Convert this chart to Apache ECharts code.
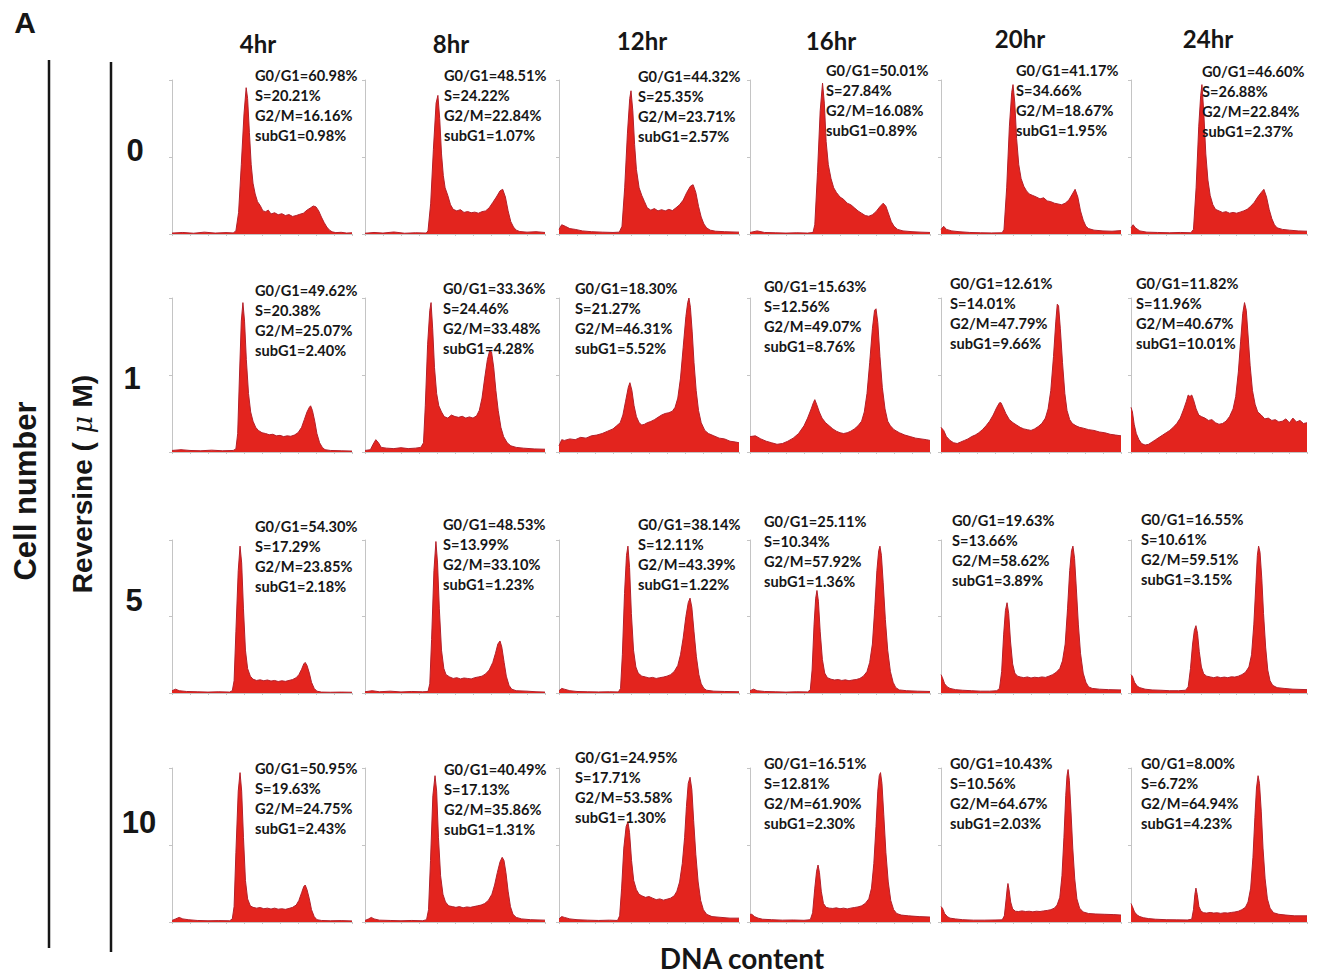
<!DOCTYPE html>
<html>
<head>
<meta charset="utf-8">
<script src="https://cdn.jsdelivr.net/npm/echarts@6/dist/echarts.min.js"></script>
<style>
html, body { margin: 0; padding: 0; background: #ffffff; }
#chart { width: 1317px; height: 977px; }
</style>
</head>
<body>
<div id="chart"></div>
<script>
// ---- Data ---------------------------------------------------------------
const timePoints = ['4hr', '8hr', '12hr', '16hr', '20hr', '24hr'];
const doses = ['0', '1', '5', '10'];

// Cell-cycle phase percentages, one row per Reversine dose, one entry per time point
const g1Pct = [
  [60.98, 48.51, 44.32, 50.01, 41.17, 46.60],
  [49.62, 33.36, 18.30, 15.63, 12.61, 11.82],
  [54.30, 48.53, 38.14, 25.11, 19.63, 16.55],
  [50.95, 40.49, 24.95, 16.51, 10.43, 8.00]
];
const sPct = [
  [20.21, 24.22, 25.35, 27.84, 34.66, 26.88],
  [20.38, 24.46, 21.27, 12.56, 14.01, 11.96],
  [17.29, 13.99, 12.11, 10.34, 13.66, 10.61],
  [19.63, 17.13, 17.71, 12.81, 10.56, 6.72]
];
const g2mPct = [
  [16.16, 22.84, 23.71, 16.08, 18.67, 22.84],
  [25.07, 33.48, 46.31, 49.07, 47.79, 40.67],
  [23.85, 33.10, 43.39, 57.92, 58.62, 59.51],
  [24.75, 35.86, 53.58, 61.90, 64.67, 64.94]
];
const subG1Pct = [
  [0.98, 1.07, 2.57, 0.89, 1.95, 2.37],
  [2.40, 4.28, 5.52, 8.76, 9.66, 10.01],
  [2.18, 1.23, 1.22, 1.36, 3.89, 3.15],
  [2.43, 1.31, 1.30, 2.30, 2.03, 4.23]
];

// DNA-content histograms: [channel (0-100), relative cell count (0-100)]
const histDose0 = [
  [[0,0.6],[6,1.0],[12,0.5],[18,1.2],[24,0.6],[30,0.9],[34,0.7],[35.5,2],[37,14],[38.5,45],[40,78],[41.2,95],[42,88],[43,66],[44,45],[45,33],[46.2,26],[47.5,21],[49,18.5],[50.5,15],[52,14.5],[53.5,15.5],[55,13],[57,13.8],[59,12.5],[61,13.2],[63,12],[65,12.6],[67,11.4],[69,12],[71,12.8],[73,13.5],[75,15.5],[77,17],[78.5,18.2],[80,17.6],[81.5,15],[83,11],[84.5,7.5],[86,4.5],[87.5,2.5],[89,1.4],[91,0.9],[94,1.1],[97,0.6],[100,0.8]],
  [[0,0.5],[5,1],[10,0.6],[16,1.3],[22,0.5],[28,0.8],[34,0.6],[35,2],[36.5,20],[38,55],[39.5,85],[40.5,90],[41.5,75],[42.5,52],[43.5,38],[44.5,30],[46,25],[47.5,19],[49,16],[51,15],[53,15.8],[55,14],[57,14.6],[59,13.8],[61,14.2],[63,13.5],[65,14.5],[67,15],[69,17],[71,20.5],[73,24],[75,28],[76.5,29],[78,24],[79.5,15],[81,8],[82.5,4.5],[84,2.5],[86,1.6],[90,1.2],[95,1.5],[100,1]],
  [[0,3],[1.5,6],[3.5,5],[6,3.5],[9,3],[13,2],[18,1.5],[24,1.2],[30,1],[33.5,1.2],[35,5],[36.5,30],[38,65],[39.3,88],[40,93],[41,80],[42,58],[43,42],[44.5,30],[46,25],[47.5,21],[49,17],[51,15.5],[53,16.5],[55,15],[57,15.8],[59,15],[61,16],[63,15.2],[65,17],[67,19],[69,22],[71,27],[73,31],[74.5,32],[76,27],[77.5,18],[79,11],[80.5,6.5],[82,4],[84,2.5],[87,1.8],[92,1.5],[100,1.2]],
  [[0,1],[4,2],[8,1],[14,0.8],[20,0.6],[26,0.8],[32,0.6],[35,1],[36,6],[37.5,40],[39,80],[40.3,98],[41.3,85],[42.3,60],[43.5,45],[45,36],[46.5,30],[48,27],[50,24],[52,22.5],[54,20],[56,19],[58,17],[60,15],[62,13.5],[64,12],[66,11.5],[68,12.5],[70,14.5],[72,17.5],[74,20],[75.5,18],[77,13],[78.5,8],[80,5],[82,3],[85,2],[90,1.5],[95,1.2],[100,1]],
  [[0,3],[1.5,5],[3,3],[6,2],[10,1.5],[16,1],[22,0.8],[28,0.7],[34,0.8],[35,3],[36.5,30],[38,70],[39.3,92],[40,97],[41,85],[42,62],[43.2,45],[44.5,36],[46,31],[47.5,28],[49,26],[51,25],[53,24],[55,22.8],[57,23.5],[59,21.5],[61,21],[63,20],[65,19.5],[67,19],[69,20],[71,22],[73,26],[74.5,29],[76,24],[77.5,15],[79,9],[80.5,5],[82,3.5],[85,2.5],[90,2],[95,1.8],[100,2.2]],
  [[0,4],[1.2,6],[2.5,4],[5,2],[9,1.2],[15,1],[22,0.8],[28,1],[34,0.8],[35.5,3],[37,30],[38.5,70],[39.6,90],[40.3,97],[41.3,80],[42.5,52],[43.7,35],[45,25],[46.5,19],[48,16],[50,15],[52,14],[54,14.5],[56,13.5],[58,14],[60,13.5],[62,14.2],[64,15],[66,16],[68,18],[70,20.5],[72,24],[74,27],[75.5,29],[77,24],[78.5,16],[80,10],[81.5,6],[83,4],[86,3],[90,2.5],[95,2],[100,1.8]]
];
const histDose1 = [
  [[0,1],[5,1.5],[10,1],[16,0.8],[22,1.2],[28,0.8],[34,1],[35.5,2],[36.5,12],[37.5,50],[38.5,85],[39.4,97],[40.3,85],[41.3,60],[42.5,38],[43.7,26],[45,20],[46.5,16],[48,14],[50,12.5],[52,12],[54,11.2],[56,11.5],[58,10.5],[60,10.8],[62,10],[64,10.5],[66,10.2],[68,11],[70,12.5],[72,16],[73.5,21],[75,26],[76.3,29],[77,30],[78,27],[79.3,20],[80.5,12],[82,6],[83.5,3],[85,1.5],[88,1],[94,0.8],[100,0.6]],
  [[0,1],[3,1.5],[4.5,5],[6,8],[7.5,6],[9,3],[12,2.5],[16,2.2],[20,2.8],[24,2.2],[28,2.5],[31,3],[32.5,6],[33.5,30],[34.8,70],[36,92],[36.7,97],[37.6,80],[38.6,55],[39.8,38],[41,30],[42.5,26],[44,23],[46,22],[48,24],[50,23],[52,22.5],[54,23.2],[56,22],[58,22.8],[60,22],[62,23.5],[63.5,27],[65,35],[66.5,48],[68,60],[69.3,66],[70.3,65],[71.5,55],[72.7,40],[74,27],[75.5,16],[77,10],[79,6],[81,4],[84,3],[88,2.5],[94,2],[100,1.8]],
  [[0,4],[1.5,8],[3,7.5],[6,8.5],[9,8],[12,9.5],[15,9],[18,10.5],[21,11],[24,12],[27,13.5],[30,15],[32,17],[34,19],[35.5,24],[37,33],[38.5,42],[39.4,45],[40.5,40],[41.7,30],[43,23],[44.5,19],[46,17.5],[47.5,18],[49,19],[51,19.8],[53,21],[55,22.5],[57,24],[59,25],[61,25.5],[63,26.5],[64.5,29],[66,35],[67.5,48],[69,68],[70.5,88],[71.5,97],[72.2,100],[73,94],[74,78],[75,58],[76.2,40],[77.5,27],[79,19],[81,14],[83,12],[86,10.5],[89,9],[92,8.5],[95,7],[98,6.5],[100,6]],
  [[0,10],[3,10.5],[6,8.5],[9,7],[12,6],[15,5],[18,5.5],[21,7],[24,9],[27,12],[30,17],[32,22],[34,28],[35.2,32],[36,34],[37,31],[38.5,26],[40,22],[42,19],[44,17],[46,15],[48,13.5],[50,12.5],[52,12],[54,12.5],[56,13.5],[58,15],[60,17],[62,20],[63.5,26],[65,38],[66.5,58],[68,80],[69.2,92],[70,93],[71,84],[72.2,62],[73.5,42],[75,28],[76.5,20],[78,17],[80,14.5],[83,12.5],[86,11],[89,10],[92,9],[95,8.5],[98,8],[100,7.5]],
  [[0,16],[1.5,14],[3,10],[5,7.5],[7,6],[9,5.5],[11,6.5],[13,7.5],[15,8.5],[17,10],[19,11],[21,12.5],[23,14.5],[25,17],[27,20],[29,24],[31,29],[32.5,32],[33.3,32],[34.5,29],[36,25],[38,21],[40,19],[42,17.5],[44,16],[46,15],[48,14.5],[50,14],[52,15],[54,16.5],[56,18.5],[58,22],[59.5,28],[61,40],[62.5,62],[63.8,85],[64.6,96],[65.3,95],[66.3,80],[67.5,58],[68.8,38],[70,27],[71.5,21],[73,18.5],[75,17],[77,16],[79,15.5],[82,14.5],[85,14],[88,13],[91,12.5],[94,11.5],[97,11],[100,10.5]],
  [[0,29],[0.8,26],[1.8,18],[3,12],[4.5,8],[6,5.5],[8,4.5],[10,5],[12,6.5],[14,8],[16,9.5],[18,11],[20,12.5],[22,14],[24,16],[26,18.5],[28,22],[30,28],[31.5,33],[32.5,37],[33.5,36],[34.5,37],[35.5,34],[37,28],[38.5,24],[40,23],[42,22],[44,20.5],[46,21],[48,19],[50,18],[52,18.5],[54,20],[56,23],[58,28],[59.5,36],[61,52],[62.3,72],[63.5,90],[64.5,97],[65.5,92],[66.5,76],[67.7,56],[69,40],[70.5,31],[72,26],[74,24],[76,21.5],[78,22],[80,20.5],[82,21],[84,19.5],[86,20],[88,21.5],[90,19],[92,22],[94,19.5],[96,20.5],[98,18.5],[100,19]]
];
const histDose5 = [
  [[0,1.5],[2,2.5],[4,1.5],[8,1],[14,0.8],[20,0.6],[26,0.8],[32,0.6],[33.5,1.5],[34.5,8],[35.5,40],[36.8,80],[37.8,96],[38.7,85],[39.7,55],[40.8,28],[42,16],[43.5,11],[45,9],[47,8.2],[49,8.6],[51,8],[53,8.5],[55,7.8],[57,8.2],[59,7.5],[61,8],[63,7.6],[65,8.2],[67,8.8],[69,10],[70.5,12],[72,15.5],[73.2,19],[74,20],[75,18],[76.3,13],[77.5,7],[79,3],[80.5,1.2],[83,0.6],[88,0.5],[94,0.6],[100,0.5]],
  [[0,0.8],[4,1.5],[8,0.8],[14,1.2],[20,0.7],[26,1],[32,0.8],[35,1],[36,6],[37,35],[38.3,80],[39.4,99],[40.3,85],[41.3,55],[42.5,28],[43.8,16],[45,12],[47,10.5],[49,9.5],[51,10],[53,9.2],[55,9.8],[57,9.5],[59,9.2],[61,10],[63,10.5],[65,11],[67,12.5],[69,15],[71,20],[72.5,26],[73.8,32],[75,34],[76,30],[77.3,20],[78.5,11],[80,5],[81.5,2.5],[84,1.5],[90,1.2],[95,0.8],[100,0.6]],
  [[0,1.5],[1.5,3],[3,2.5],[6,1.5],[10,1],[16,0.8],[22,0.7],[28,0.8],[33,0.7],[34.2,3],[35.2,25],[36.4,65],[37.5,90],[38.3,96],[39.2,82],[40.2,52],[41.4,28],[42.7,17],[44,13],[46,11],[48,10.5],[50,9.8],[52,10.2],[54,9.5],[56,10],[58,10.4],[60,11],[62,12],[64,14],[66,18],[67.5,25],[69,36],[70.5,50],[71.8,59],[72.8,62],[73.8,56],[75,40],[76.3,24],[77.7,12],[79,6],[80.5,3],[82,1.8],[86,1.2],[92,1],[100,0.8]],
  [[0,1.5],[2,2.5],[4,1.5],[8,1],[14,0.8],[20,0.6],[26,0.8],[32,0.7],[33.5,2],[34.5,15],[35.6,45],[36.5,62],[37.2,67],[38,60],[39,40],[40.2,22],[41.5,13],[43,10],[45,9],[47,8.5],[49,8.8],[51,8.2],[53,8.6],[55,8],[57,8.5],[59,8.8],[61,9.5],[63,11],[65,14],[66.5,20],[68,32],[69.3,55],[70.5,80],[71.5,93],[72.2,96],[73,90],[74,72],[75.2,48],[76.5,28],[78,14],[79.5,7],[81,3.5],[83,2],[87,1.5],[93,1.2],[100,1]],
  [[0,12],[0.8,10],[2,6],[3.5,4],[5,3],[8,2.2],[12,1.8],[17,1.5],[22,1.2],[27,1.2],[31,1.5],[32.5,3],[33.7,14],[34.8,38],[35.8,54],[36.7,59],[37.6,52],[38.6,34],[39.8,19],[41,13],[42.5,11],[44,10.5],[46,10],[48,10.5],[50,9.8],[52,10.3],[54,10],[56,10.5],[58,10.2],[60,11],[62,12],[64,13.5],[66,16],[67.5,21],[69,32],[70.3,55],[71.5,80],[72.5,93],[73.3,96],[74.2,88],[75.2,68],[76.3,45],[77.5,26],[79,13],[80.5,7],[82,4],[84,3],[88,2.5],[93,2.2],[100,2]],
  [[0,12],[0.8,11],[2,7],[3.5,4.5],[5,3.5],[8,2.5],[12,2],[17,1.8],[22,1.5],[27,1.5],[31,1.8],[32.5,4],[33.8,16],[35,32],[36,41],[36.9,44],[37.8,39],[38.8,27],[40,17],[41.3,12.5],[43,11],[45,10.5],[47,10],[49,10.6],[51,10],[53,10.4],[55,10],[57,10.6],[59,10.4],[61,11],[63,12],[65,13.5],[67,17],[68.5,25],[69.8,45],[71,72],[71.8,90],[72.5,96],[73.3,92],[74.3,75],[75.3,52],[76.5,30],[77.7,15],[79,8],[80.5,5],[83,3.5],[87,3],[92,2.5],[100,2.2]]
];
const histDose10 = [
  [[0,1],[2,2],[4,3],[6,2],[9,1.5],[14,1],[20,0.8],[26,0.9],[32,0.8],[33.5,2],[34.5,10],[35.5,45],[36.8,85],[37.8,97],[38.7,85],[39.7,55],[40.8,27],[42,15],[43.5,10.5],[45,9.5],[47,9],[49,9.4],[51,8.6],[53,9],[55,8.4],[57,9],[59,8.3],[61,8.6],[63,8.2],[65,8.8],[67,9.5],[69,11],[70.5,14],[72,19],[73.2,23],[74,24],[75,21],[76.3,15],[77.5,8],[79,3.5],[80.5,1.5],[83,1],[88,0.8],[94,0.9],[100,0.7]],
  [[0,1],[2,2],[3.5,3],[5,2],[8,1.2],[14,1],[20,0.8],[26,1],[32,0.8],[34.2,1.5],[35.3,8],[36.4,40],[37.7,82],[38.9,95],[39.8,85],[40.8,55],[42,30],[43.3,18],[44.7,13],[46.5,10.5],[48.5,10],[50.5,9.5],[52.5,10],[54.5,9.2],[56.5,9.8],[58.5,9.5],[60.5,10],[62.5,10.5],[64.5,11],[66.5,12],[68.5,14],[70.5,18],[72,24],[73.5,32],[75,39],[76.2,42],[77.2,40],[78.3,32],[79.5,20],[80.8,10],[82.2,5],[84,3],[87,2],[92,1.5],[100,1.2]],
  [[0,2],[1.5,3.5],[3,3],[6,2],[10,1.5],[16,1.2],[22,1],[28,1.2],[32.5,1],[33.7,4],[34.8,22],[36,48],[37.3,62],[38.3,65],[39.2,58],[40.3,40],[41.5,27],[43,21],[44.5,18],[46,17],[48,16],[50,16.5],[52,15.5],[54,14.5],[56,15],[58,14.2],[60,14.8],[62,15.5],[64,17],[65.5,20],[67,26],[68.5,38],[69.8,55],[70.8,75],[71.8,90],[72.8,94],[73.8,86],[74.8,66],[76,44],[77.3,26],[78.7,14],[80.2,8],[82,5],[85,3.5],[90,3],[95,2.5],[100,2.5]],
  [[0,5],[1,5],[2.5,3.5],[4.5,2.5],[7,1.8],[12,1.5],[18,1.2],[24,1.3],[30,1.1],[33.5,1.5],[34.8,6],[36,22],[37,33],[37.8,37],[38.6,32],[39.6,20],[40.8,12],[42.3,9.5],[44,9],[46,8.8],[48,9.2],[50,8.6],[52,9],[54,8.5],[56,9],[58,9.4],[60,9.8],[62,10.5],[64,12],[66,15],[67.5,22],[68.8,38],[70,62],[71,85],[71.8,95],[72.5,97],[73.3,90],[74.3,70],[75.5,45],[76.8,26],[78.2,14],[79.8,8],[81.5,5.5],[84,4.5],[88,4],[94,3.5],[100,3.2]],
  [[0,10],[0.8,9],[2,5.5],[3.5,3.5],[5,2.5],[8,2],[12,1.5],[18,1.2],[24,1.2],[30,1.3],[34,1.4],[35.2,4],[36.2,15],[36.8,22],[37.2,25],[37.8,21],[38.7,13],[39.8,8.5],[41.3,7],[43,6.8],[45,7.2],[47,6.8],[49,7],[51,6.6],[53,7],[55,6.8],[57,7.2],[59,7.5],[61,8],[63,9],[64.5,11],[66,16],[67.2,30],[68.3,55],[69.3,82],[70,95],[70.6,99],[71.3,92],[72.2,72],[73.2,48],[74.3,28],[75.5,15],[77,9],[79,6.5],[82,5.5],[86,5.2],[91,5],[96,4.8],[100,4.5]],
  [[0,12],[0.8,10],[2,6.5],[3.5,4.5],[5,3.5],[7,2.8],[10,2.2],[14,1.8],[20,1.5],[26,1.4],[32,1.3],[34.5,1.8],[35.5,8],[36.3,18],[36.9,22],[37.6,18],[38.6,10],[39.8,7],[41.3,6],[43,5.8],[45,6.2],[47,5.8],[49,6],[51,5.6],[53,6],[55,5.8],[57,6.2],[59,6.5],[61,7],[63,8],[65,9.5],[66.5,13],[68,22],[69.3,42],[70.4,68],[71.3,87],[72.2,95],[73,90],[74,72],[75,48],[76.2,28],[77.5,15],[79,9],[81,6],[84,5],[88,4.5],[93,4],[100,4]]
];
const histograms = [histDose0, histDose1, histDose5, histDose10];

// ---- Layout -------------------------------------------------------------
const colLeft = [172, 365, 559, 750, 941, 1131];
const colWidth = [180, 180, 180, 180, 180, 176];
const rowTop = [80, 298, 540, 768];
const rowBase = [234, 452, 693, 922];
// top-left of each phase read-out block (x, centre of first line)
const statAnchor = [
  [[255, 75], [444, 75], [638, 76], [826, 70], [1016, 70], [1202, 71]],
  [[255, 290], [443, 288], [575, 288], [764, 286], [950, 283], [1136, 283]],
  [[255, 526], [443, 524], [638, 524], [764, 521], [952, 520], [1141, 519]],
  [[255, 768], [444, 769], [575, 757], [764, 763], [950, 763], [1141, 763]]
];
const headerPos = [[258, 43], [451, 43], [642, 40], [831, 40], [1020, 38], [1208, 38]];
const dosePos = [[135, 150], [132, 378], [134, 600], [139, 822]];

const FILL = '#e3241e';
const EDGE = '#b3202a';
const AXIS = '#c4c4c4';
const INK = '#161616';
const statFont = 'Lato, "Open Sans", sans-serif';

const grids = [], xAxes = [], yAxes = [], series = [], graphics = [];

for (let r = 0; r < doses.length; r++) {
  for (let c = 0; c < timePoints.length; c++) {
    const idx = grids.length;
    grids.push({
      left: colLeft[c], top: rowTop[r],
      width: colWidth[c], height: rowBase[r] - rowTop[r],
      containLabel: false
    });
    xAxes.push({
      type: 'value', gridIndex: idx, min: 0, max: 100, interval: 10,
      axisLine: { show: true, lineStyle: { color: AXIS, width: 1 } },
      axisTick: { show: true, length: 2, lineStyle: { color: AXIS } },
      axisLabel: { show: false }, splitLine: { show: false }
    });
    yAxes.push({
      type: 'value', gridIndex: idx, min: 0, max: 100, interval: 50,
      axisLine: { show: true, lineStyle: { color: AXIS, width: 1 } },
      axisTick: { show: true, length: 3, lineStyle: { color: AXIS } },
      axisLabel: { show: false }, splitLine: { show: false }
    });
    series.push({
      type: 'line', xAxisIndex: idx, yAxisIndex: idx,
      data: histograms[r][c],
      showSymbol: false, symbol: 'none', smooth: false,
      lineStyle: { color: EDGE, width: 1 },
      areaStyle: { color: FILL, opacity: 1 },
      silent: true, animation: false
    });

    const lines = [
      'G0/G1=' + g1Pct[r][c].toFixed(2) + '%',
      'S=' + sPct[r][c].toFixed(2) + '%',
      'G2/M=' + g2mPct[r][c].toFixed(2) + '%',
      'subG1=' + subG1Pct[r][c].toFixed(2) + '%'
    ];
    const [ax, ay] = statAnchor[r][c];
    lines.forEach((t, i) => {
      graphics.push({
        type: 'text', x: ax, y: ay + i * 20, z: 10,
        style: {
          text: t, fill: INK, fontFamily: statFont, fontWeight: 'bold',
          fontSize: 14.6, textAlign: 'left', textVerticalAlign: 'middle'
        }
      });
    });
  }
}

// column headers (time points)
timePoints.forEach((t, c) => {
  graphics.push({
    type: 'text', x: headerPos[c][0], y: headerPos[c][1],
    style: { text: t, fill: INK, fontFamily: statFont, fontWeight: 'bold',
             fontSize: 24, textAlign: 'center', textVerticalAlign: 'middle' }
  });
});

// dose labels
doses.forEach((d, r) => {
  graphics.push({
    type: 'text', x: dosePos[r][0], y: dosePos[r][1],
    style: { text: d, fill: INK, fontFamily: '"Liberation Sans", Arial, sans-serif',
             fontWeight: 'bold', fontSize: 31, textAlign: 'center', textVerticalAlign: 'middle' }
  });
});

// panel letter
graphics.push({
  type: 'text', x: 25, y: 22,
  style: { text: 'A', fill: INK, fontFamily: '"Liberation Sans", Arial, sans-serif',
           fontWeight: 'bold', fontSize: 30, textAlign: 'center', textVerticalAlign: 'middle' }
});

// axis titles
graphics.push({
  type: 'text', x: 25, y: 491, rotation: Math.PI / 2,
  style: { text: 'Cell number', fill: INK, fontFamily: '"Liberation Sans", Arial, sans-serif',
           fontWeight: 'bold', fontSize: 31, textAlign: 'center', textVerticalAlign: 'middle' }
});
graphics.push({
  type: 'text', x: 82, y: 484, rotation: Math.PI / 2,
  style: {
    text: '{a|Reversine (}{b| μ }{a|M)}',
    textAlign: 'center', textVerticalAlign: 'middle',
    rich: {
      a: { fill: INK, fontFamily: '"Liberation Sans", Arial, sans-serif', fontWeight: 'bold', fontSize: 28 },
      b: { fill: INK, fontFamily: '"DejaVu Serif", serif', fontStyle: 'italic', fontSize: 27 }
    }
  }
});
graphics.push({
  type: 'text', x: 742, y: 958,
  style: { text: 'DNA content', fill: INK, fontFamily: statFont, fontWeight: 'bold',
           fontSize: 28, textAlign: 'center', textVerticalAlign: 'middle' }
});

// bracket lines for the two row titles
graphics.push({ type: 'line', shape: { x1: 49, y1: 60, x2: 49, y2: 948 },
                style: { stroke: INK, lineWidth: 2.5 } });
graphics.push({ type: 'line', shape: { x1: 111, y1: 62, x2: 111, y2: 952 },
                style: { stroke: INK, lineWidth: 2.5 } });

const chart = echarts.init(document.getElementById('chart'), null, { renderer: 'svg' });
chart.setOption({
  backgroundColor: '#ffffff',
  animation: false,
  grid: grids,
  xAxis: xAxes,
  yAxis: yAxes,
  series: series,
  graphic: graphics
});
</script>
</body>
</html>
